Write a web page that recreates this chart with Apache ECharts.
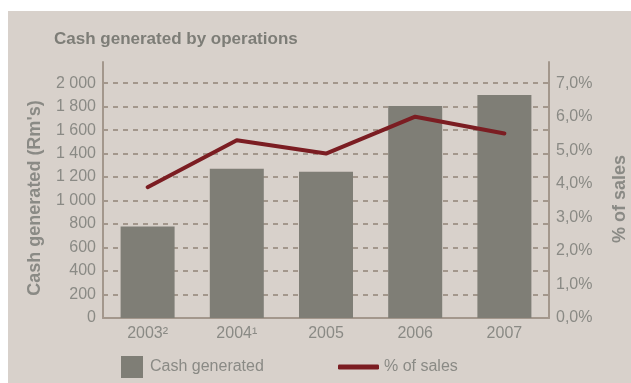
<!DOCTYPE html>
<html>
<head>
<meta charset="utf-8">
<script src="https://cdn.jsdelivr.net/npm/echarts@6/dist/echarts.min.js"></script>
<style>
  html, body { margin: 0; padding: 0; background: #ffffff; }
  #wrap { position: absolute; left: 8px; top: 11px; width: 623px; height: 372px; background: #d8d1cb; }
  #chart { position: absolute; left: 0; top: 0; width: 631px; height: 383px; }
</style>
</head>
<body>
<div id="wrap"></div>
<div id="chart"></div>
<script>
// Cash generated by operations, 2003–2007
const years = ['2003\u00B2', '2004\u00B9', '2005', '2006', '2007'];
const cashGenerated = [780, 1270, 1245, 1805, 1900];   // Rm's
const pctOfSales = [3.9, 5.3, 4.9, 6.0, 5.5];           // % of sales

const FONT = '"Liberation Sans", Arial, sans-serif';
const TEXT = '#8a8a85';
const AXIS = '#a3978c';

const chart = echarts.init(document.getElementById('chart'), null, { renderer: 'canvas' });

chart.setOption({
  backgroundColor: 'transparent',
  animation: false,
  textStyle: { fontFamily: FONT },
  title: {
    text: 'Cash generated by operations',
    left: 49, top: 26,
    textStyle: { fontFamily: FONT, fontSize: 17, fontWeight: 'bold', color: '#7d7d77' }
  },
  legend: [
    {
      data: [{ name: 'Cash generated', icon: 'rect' }],
      left: 116, top: 351,
      itemWidth: 22, itemHeight: 22, itemGap: 0,
      textStyle: { fontFamily: FONT, fontSize: 16, color: TEXT, padding: [0, 0, 0, 2] }
    },
    {
      data: [{ name: '% of sales', icon: 'roundRect' }],
      left: 333, top: 354,
      itemWidth: 41, itemHeight: 5, itemGap: 0,
      textStyle: { fontFamily: FONT, fontSize: 16, color: TEXT, padding: [0, 0, 0, 0] }
    }
  ],
  grid: { left: 103, right: 82, top: 62, bottom: 65, containLabel: false, outerBoundsMode: 'none' },
  xAxis: {
    type: 'category',
    data: years,
    axisLine: { lineStyle: { color: AXIS, width: 2 } },
    axisTick: { show: false },
    axisLabel: { fontFamily: FONT, fontSize: 16, color: TEXT, margin: 8 }
  },
  yAxis: [
    {
      type: 'value',
      min: 0, max: 2180, interval: 200,
      name: "Cash generated (Rm's)",
      nameLocation: 'middle', nameGap: 59,
      nameTextStyle: { fontFamily: FONT, fontSize: 18, fontWeight: 'bold', color: TEXT, padding: [0, 16, 0, 0] },
      axisLine: { show: true, lineStyle: { color: AXIS, width: 2 } },
      axisTick: { show: false },
      axisLabel: {
        fontFamily: FONT, fontSize: 16, color: TEXT, margin: 7,
        showMaxLabel: false,
        formatter: v => v >= 1000 ? Math.floor(v / 1000) + ' ' + String(v % 1000).padStart(3, '0') : String(v)
      },
      splitLine: {
        show: true, showMinLine: false, showMaxLine: false,
        lineStyle: { color: AXIS, width: 2, type: [5, 5] }
      }
    },
    {
      type: 'value',
      min: 0, max: 7.63, interval: 1,
      name: '% of sales',
      nameLocation: 'middle', nameGap: 62,
      nameRotate: 90,
      nameTextStyle: { fontFamily: FONT, fontSize: 18, fontWeight: 'bold', color: TEXT, padding: [0, 18, 0, 0] },
      axisLine: { show: true, lineStyle: { color: AXIS, width: 2 } },
      axisTick: { show: false },
      axisLabel: {
        fontFamily: FONT, fontSize: 16, color: TEXT, margin: 7,
        showMaxLabel: false,
        formatter: v => v.toFixed(1).replace('.', ',') + '%'
      },
      splitLine: { show: false }
    }
  ],
  series: [
    {
      name: 'Cash generated',
      type: 'bar',
      data: cashGenerated,
      barWidth: 54,
      itemStyle: { color: '#7f7e76' },
      z: 2
    },
    {
      name: '% of sales',
      type: 'line',
      yAxisIndex: 1,
      data: pctOfSales,
      showSymbol: false,
      symbol: 'none',
      lineStyle: { color: '#7b1d22', width: 4, cap: 'round', join: 'round' },
      itemStyle: { color: '#7b1d22' },
      z: 3
    }
  ]
});
</script>
</body>
</html>
